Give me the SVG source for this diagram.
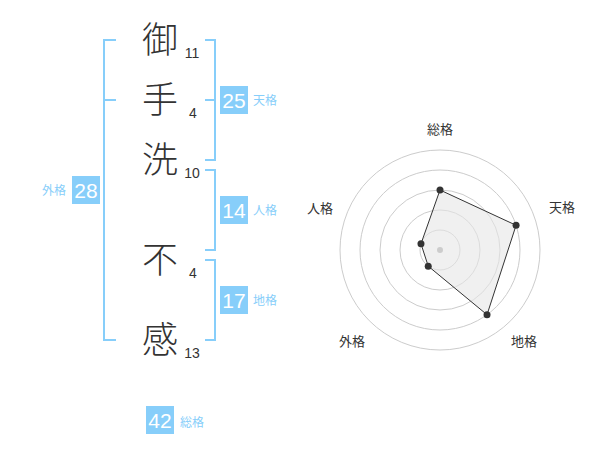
<svg xmlns="http://www.w3.org/2000/svg" width="600" height="470" viewBox="0 0 600 470">
<style>
.ch{font-family:"Noto Sans CJK JP","Noto Sans",sans-serif;font-size:36px;font-weight:300;fill:#333;text-anchor:middle}
.st{font-family:"Liberation Sans",Arial,sans-serif;font-size:14px;fill:#333;text-anchor:middle}
.br{fill:none;stroke:#87cefa;stroke-width:2}
.bx{fill:#87cefa}
.bn{font-family:"Liberation Sans",Arial,sans-serif;font-size:21px;fill:#fff;text-anchor:middle}
.lb{font-family:"Noto Sans CJK JP",sans-serif;font-size:12px;fill:#87cefa}
.ring{fill:none;stroke:#ccc;stroke-width:1}
.ax{font-family:"Noto Sans CJK JP",sans-serif;font-size:13px;fill:#333;text-anchor:middle}
.pt{fill:#333}
</style>
<rect width="600" height="470" fill="#fff"/>
<g id="chars">
<text class="ch" x="160" y="53">御</text>
<text class="ch" x="160" y="113">手</text>
<text class="ch" x="160" y="173">洗</text>
<text class="ch" x="160" y="273">不</text>
<text class="ch" x="160" y="353">感</text>
<text class="st" x="192" y="58">11</text>
<text class="st" x="193" y="118">4</text>
<text class="st" x="192" y="178">10</text>
<text class="st" x="193" y="278">4</text>
<text class="st" x="192" y="358">13</text>
</g>
<g id="connectors">
<path class="br" d="M116,40 H104 V340 H116 M104,100 H116"/>
<path class="br" d="M205,40 H215 V160 H205 M205,100 H215"/>
<path class="br" d="M205,170 H215 V250 H205"/>
<path class="br" d="M205,260 H215 V340 H205"/>
</g>
<g id="tenkaku">
<rect class="bx" x="220" y="86" width="28" height="28"/>
<text class="bn" x="234" y="107.5">25</text>
<text class="lb" x="253" y="105">天格</text>
</g>
<g id="jinkaku">
<rect class="bx" x="220" y="196" width="28" height="28"/>
<text class="bn" x="234" y="217.5">14</text>
<text class="lb" x="253" y="215">人格</text>
</g>
<g id="chikaku">
<rect class="bx" x="220" y="286" width="28" height="28"/>
<text class="bn" x="234" y="307.5">17</text>
<text class="lb" x="253" y="305">地格</text>
</g>
<g id="gaikaku">
<rect class="bx" x="72" y="176" width="28" height="28"/>
<text class="bn" x="86" y="197.5">28</text>
<text class="lb" x="66" y="195" text-anchor="end">外格</text>
</g>
<g id="soukaku">
<rect class="bx" x="146" y="406" width="28" height="28"/>
<text class="bn" x="160" y="427.5">42</text>
<text class="lb" x="180" y="427">総格</text>
</g>
<g id="radar">
<circle class="ring" cx="440" cy="250" r="20"/>
<circle class="ring" cx="440" cy="250" r="40"/>
<circle class="ring" cx="440" cy="250" r="60"/>
<circle class="ring" cx="440" cy="250" r="80"/>
<circle class="ring" cx="440" cy="250" r="100"/>
<polygon points="440,190 516.08,225.28 487.02,314.72 428.24,266.18 420.98,243.82" fill="#e6e6e6" fill-opacity="0.6" stroke="#333" stroke-width="1"/>
<circle cx="440" cy="250" r="3" fill="#ccc"/>
<circle class="pt" cx="440" cy="190" r="3.5"/>
<circle class="pt" cx="516.08" cy="225.28" r="3.5"/>
<circle class="pt" cx="487.02" cy="314.72" r="3.5"/>
<circle class="pt" cx="428.24" cy="266.18" r="3.5"/>
<circle class="pt" cx="420.98" cy="243.82" r="3.5"/>
<text class="ax" x="440" y="134">総格</text>
<text class="ax" x="562" y="212">天格</text>
<text class="ax" x="320" y="213">人格</text>
<text class="ax" x="352" y="346">外格</text>
<text class="ax" x="524" y="346">地格</text>
</g>
</svg>
